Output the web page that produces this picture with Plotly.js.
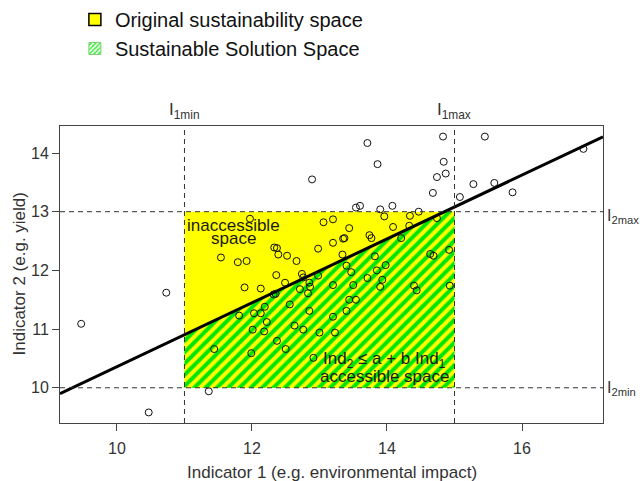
<!DOCTYPE html>
<html>
<head>
<meta charset="utf-8">
<script src="https://cdn.plot.ly/plotly-3.0.1.min.js"></script>
<style>html,body{margin:0;padding:0;background:#fff;}#chart{width:640px;height:481px;}</style>
</head>
<body>
<div id="chart"></div>
<script>
// Scatter points: Indicator 1 (x) and Indicator 2 (y)
const ind1 = [9.47,10.73,10.47,11.36,12.89,13.71,13.86,14.83,15.45,14.84,14.87,14.74,14.68,15.08,15.28,15.59,15.86,16.91,13.54,13.60,13.90,14.08,14.47,
  14.34,13.96,13.20,13.06,13.44,14.09,14.33,14.74,13.20,13.35,13.37,13.74,13.77,14.21,13.34,13.82,14.64,14.69,14.92,13.40,13.47,13.98,13.85,
  13.20,13.50,13.71,13.93,13.90,14.40,14.44,14.93,13.44,13.54,13.40,13.20,13.23,12.98,12.39,12.52,12.66,12.36,12.49,12.74,12.76,12.85,12.86,
  12.83,12.71,12.98,12.56,12.85,12.63,12.76,13.00,12.37,12.50,12.91,11.97,12.33,12.37,11.54,11.79,11.92,11.89,12.13,12.32,12.35,12.19,11.81,
  12.03,12.13,12.22,12.01,12.18,11.44,11.99];
const ind2 = [11.09,11.62,9.58,9.94,13.55,14.17,13.81,14.28,14.28,13.85,13.65,13.59,13.32,13.25,13.47,13.49,13.33,14.07,13.07,13.10,13.04,13.10,13.00,
  12.93,12.92,12.87,12.82,12.72,12.74,12.76,12.89,12.47,12.54,12.55,12.60,12.55,12.55,12.27,12.24,12.28,12.25,12.35,12.08,11.97,12.09,12.00,
  11.75,11.75,11.87,11.84,11.72,11.74,11.66,11.74,11.50,11.50,11.31,11.21,10.94,12.37,12.27,12.25,12.16,11.92,11.79,11.94,11.88,11.79,11.72,
  11.61,11.68,11.91,11.42,11.31,11.06,10.99,10.94,10.80,10.66,10.51,12.88,12.39,12.38,12.22,12.14,12.16,11.71,11.69,11.59,11.60,11.38,11.23,
  11.27,11.27,11.12,10.99,10.96,10.66,10.59];

// Thresholds
const I1min = 11, I1max = 15, I2min = 10, I2max = 13;
// Constraint line Ind2 = a + b*Ind1
const a = 4.92, b = 0.544;
// Axis ranges
const xRange = [9.156, 17.2];
const yRange = [9.40, 14.46];
const xTicks = [10, 12, 14, 16];
const yTicks = [10, 11, 12, 13, 14];

const legendNames = ['Original sustainability space', 'Sustainable Solution Space'];
const xTitle = 'Indicator 1 (e.g. environmental impact)';
const yTitle = 'Indicator 2 (e.g. yield)';

const YELLOW = '#FFFF00';
const GREEN = '#00E600';
const FONT = 'Liberation Sans, Arial, sans-serif';

const f = x => a + b * x;

// Sustainable (hatched) polygon: original space under the line
const gx = [I1min, I1max], gy = [I2min, I2min];
if (f(I1max) <= I2max) { gx.push(I1max); gy.push(f(I1max)); }
else { gx.push(I1max, (I2max - a) / b); gy.push(I2max, I2max); }
gx.push(I1min, I1min); gy.push(f(I1min), I2min);

const traces = [
  {type:'scatter', mode:'lines', x:[I1min,I1max,I1max,I1min,I1min], y:[I2min,I2min,I2max,I2max,I2min],
   fill:'toself', fillcolor:YELLOW, line:{width:0}, showlegend:false, hoverinfo:'skip'},
  {type:'scatter', mode:'lines', x:gx, y:gy, fill:'toself', fillcolor:YELLOW,
   fillpattern:{shape:'/', bgcolor:YELLOW, fgcolor:GREEN, size:8, solidity:0.5},
   line:{width:0}, showlegend:false, hoverinfo:'skip'},
  {type:'scatter', mode:'lines', x:xRange, y:xRange.map(f), line:{color:'#000', width:3},
   showlegend:false, hoverinfo:'skip'},
  {type:'scatter', mode:'markers', x:ind1, y:ind2,
   marker:{symbol:'circle-open', size:7, color:'#111', line:{width:1}}, showlegend:false},
  // legend entries
  {type:'bar', x:[null], y:[null], name:legendNames[0],
   marker:{color:YELLOW, line:{color:'#000', width:1.5}}, showlegend:true},
  {type:'bar', x:[null], y:[null], name:legendNames[1],
   marker:{color:'#fff', line:{color:'#7ccf70', width:1},
     pattern:{shape:'/', fgcolor:'#22ee22', bgcolor:'#fff', size:4, solidity:0.45}}, showlegend:true}
];

const dash = {color:'#333', width:1, dash:'5px,4px'};
const shapes = [
  {type:'line', xref:'x', yref:'paper', x0:I1min, x1:I1min, y0:0, y1:1, line:dash, layer:'above'},
  {type:'line', xref:'x', yref:'paper', x0:I1max, x1:I1max, y0:0, y1:1, line:dash, layer:'above'},
  {type:'line', xref:'paper', yref:'y', x0:0, x1:1, y0:I2min, y1:I2min, line:dash, layer:'above'},
  {type:'line', xref:'paper', yref:'y', x0:0, x1:1, y0:I2max, y1:I2max, line:dash, layer:'above'}
];

const labFont = {family:FONT, size:17, color:'#333'};
const sideFont = {family:FONT, size:16, color:'#333'};
const txtFont = {family:FONT, size:17, color:'#1a1a1a'};
const titleFont = {family:FONT, size:17, color:'#333'};
const annotations = [
  {xref:'x', yref:'paper', x:I1min, y:1, yanchor:'bottom', xanchor:'center', yshift:2, showarrow:false,
   text:'I<sub>1min</sub>', font:labFont},
  {xref:'x', yref:'paper', x:I1max, y:1, yanchor:'bottom', xanchor:'center', yshift:2, showarrow:false,
   text:'I<sub>1max</sub>', font:labFont},
  {xref:'paper', yref:'y', x:1, y:I2max, xanchor:'left', yanchor:'middle', xshift:2, yshift:-5, showarrow:false,
   text:'I<sub>2max</sub>', font:sideFont},
  {xref:'paper', yref:'y', x:1, y:I2min, xanchor:'left', yanchor:'middle', xshift:2, yshift:-1, showarrow:false,
   text:'I<sub>2min</sub>', font:sideFont},
  {xref:'x', yref:'y', x:11.726, y:12.757, showarrow:false, text:'inaccessible', font:txtFont},
  {xref:'x', yref:'y', x:11.726, y:12.535, showarrow:false, text:'space', font:txtFont},
  {xref:'x', yref:'y', x:13.963, y:10.477, showarrow:false, text:'Ind<sub>2</sub> ≤ a + b Ind<sub>1</sub>', font:txtFont},
  {xref:'x', yref:'y', x:13.963, y:10.187, showarrow:false, text:'accessible space', font:txtFont},
  {xref:'paper', yref:'paper', x:0.5, y:-0.165, xanchor:'center', yanchor:'middle', showarrow:false,
   text:xTitle, font:titleFont},
  {xref:'paper', yref:'paper', x:-0.0755, y:0.5, xanchor:'center', yanchor:'middle', showarrow:false,
   text:yTitle, textangle:-90, font:titleFont}
];

const axisCommon = {
  showgrid:false, zeroline:false, showline:true, mirror:true, linecolor:'#444', linewidth:1,
  ticks:'outside', ticklen:7, tickcolor:'#444', tickwidth:1, tickmode:'array',
  tickfont:{family:FONT, size:16, color:'#333'}, fixedrange:true
};

const layout = {
  width:640, height:481,
  margin:{l:60, r:37, t:126, b:58, pad:0, autoexpand:false},
  paper_bgcolor:'#fff', plot_bgcolor:'#fff',
  font:{family:FONT},
  showlegend:true,
  legend:{xref:'container', yref:'container', x:0.117, y:1.003, xanchor:'left', yanchor:'top',
    font:{family:FONT, size:20, color:'#111'}, bgcolor:'rgba(0,0,0,0)', traceorder:'normal', itemclick:false},
  xaxis:Object.assign({}, axisCommon, {range:xRange, tickvals:xTicks, ticktext:xTicks.map(String), ticklabelstandoff:4}),
  yaxis:Object.assign({}, axisCommon, {range:yRange, tickvals:yTicks, ticktext:yTicks.map(String)}),
  shapes:shapes,
  annotations:annotations
};

Plotly.newPlot('chart', traces, layout, {staticPlot:true, displayModeBar:false});
</script>
</body>
</html>
